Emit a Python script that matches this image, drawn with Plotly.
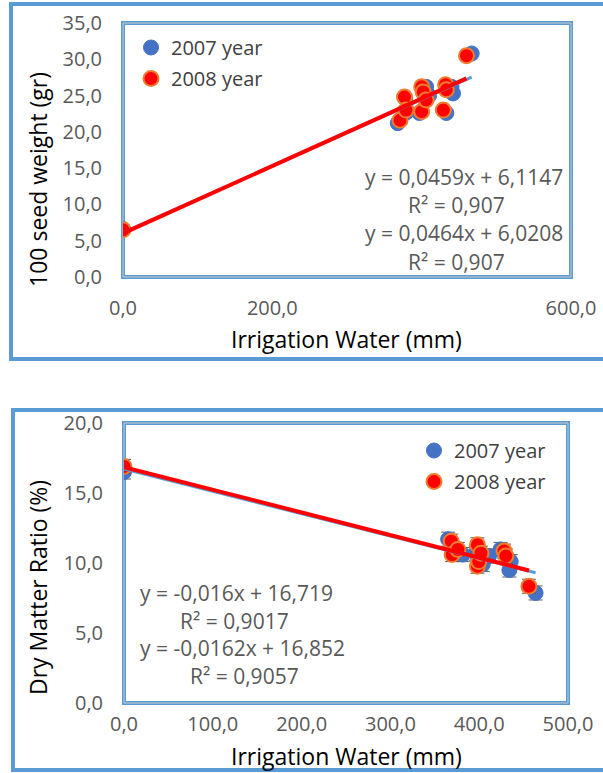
import plotly.graph_objects as go

# ---------------- data ----------------
# Top chart: 100 seed weight (gr) vs irrigation water (mm)
top_x_2007 = [0, 368, 378, 380, 397, 406, 410, 433, 440, 442, 467]
top_y_2007 = [6.6, 21.2, 24.6, 22.7, 22.6, 26.2, 25.0, 22.6, 26.2, 25.3, 30.8]
top_x_2008 = [0, 371, 377, 379, 400, 400, 402, 406, 429, 432, 433, 460]
top_y_2008 = [6.5, 21.6, 24.8, 23.0, 22.8, 26.2, 25.5, 24.4, 23.0, 26.5, 25.8, 30.5]
top_slope = [0.0459, 0.0464]
top_intercept = [6.1147, 6.0208]
top_eq_text = ["y = 0,0459x + 6,1147", "R² = 0,907", "y = 0,0464x + 6,0208", "R² = 0,907"]
top_x_ticks = [0, 200, 600]          # the 400,0 label is not shown in the reference
top_y_ticks = [0, 5, 10, 15, 20, 25, 30, 35]

# Bottom chart: dry matter ratio (%) vs irrigation water (mm)
bot_x_2007 = [0, 365, 372, 381.5, 396, 404, 411, 424, 434, 435.5, 463.5]
bot_y_2007 = [16.5, 11.7, 11.0, 10.6, 10.7, 9.9, 10.5, 10.97, 9.5, 10.1, 7.86]
bot_x_2008 = [0, 368.5, 369.5, 376, 398, 398, 399.5, 402, 428, 430, 456]
bot_y_2008 = [16.9, 11.56, 10.6, 10.97, 11.3, 9.77, 10.1, 10.7, 10.85, 10.5, 8.34]
bot_err_2007 = [0.5] * len(bot_x_2007)
bot_err_2008 = [0.5] * len(bot_x_2008)
bot_slope = [-0.016, -0.0162]
bot_intercept = [16.719, 16.852]
bot_eq_text = ["y = -0,016x + 16,719", "R² = 0,9017", "y = -0,0162x + 16,852", "R² = 0,9057"]
bot_x_ticks = [0, 100, 200, 300, 400, 500]
bot_y_ticks = [0, 5, 10, 15, 20]

series_names = ["2007 year", "2008 year"]

# ---------------- styling ----------------
W, H = 603, 773
FONT = "Open Sans"
BLUE = "#4472C4"
RED = "#FF0000"
ORANGE = "#ED7D31"
FRAME = "#5B9BD5"
GRAY = "#595959"
CLEAR = "rgba(0,0,0,0)"


def px(x):
    return x / W


def py(y):
    return 1 - y / H


fig = go.Figure()


def add_chart(xs, ys, errs, slopes, intercepts, xa, ya, legend):
    m07 = dict(size=15, color=BLUE, line=dict(color=BLUE, width=1))
    m08 = dict(size=15, color=RED, line=dict(color=ORANGE, width=2))
    for i, (x, y, m) in enumerate([(xs[0], ys[0], m07), (xs[1], ys[1], m08)]):
        kw = {}
        if errs is not None:
            kw["error_y"] = dict(type="data", array=errs[i], color=GRAY, thickness=1, width=7)
        fig.add_trace(go.Scatter(
            x=x, y=y, mode="markers", marker=m, name=series_names[i],
            xaxis=xa, yaxis=ya, legend=legend, legendgroup=legend + str(i),
            showlegend=True, **kw))
    tl_style = [dict(color=FRAME, width=3), dict(color=RED, width=4)]
    for i in range(2):
        x0, x1 = min(xs[i]), max(xs[i])
        fig.add_trace(go.Scatter(
            x=[x0, x1], y=[slopes[i] * x0 + intercepts[i], slopes[i] * x1 + intercepts[i]],
            mode="lines", line=tl_style[i], xaxis=xa, yaxis=ya, showlegend=False,
            legend=legend, legendgroup=legend + str(i), hoverinfo="skip"))


add_chart([top_x_2007, top_x_2008], [top_y_2007, top_y_2008], None,
          top_slope, top_intercept, "x", "y", "legend")
add_chart([bot_x_2007, bot_x_2008], [bot_y_2007, bot_y_2008], [bot_err_2007, bot_err_2008],
          bot_slope, bot_intercept, "x2", "y2", "legend2")

tickfont = dict(family=FONT, size=20, color=GRAY)
axis_common = dict(showgrid=False, zeroline=False, showline=False, ticks="outside",
                   tickcolor=CLEAR, tickfont=tickfont, tickformat=".1f", tickmode="array",
                   automargin=False)

legend_common = dict(xanchor="left", yanchor="top", bgcolor=CLEAR,
                     font=dict(family=FONT, size=20, color="#404040"),
                     tracegroupgap=2, itemwidth=30)

fig.update_layout(
    width=W, height=H,
    margin=dict(l=0, r=0, t=0, b=0, pad=0, autoexpand=False),
    paper_bgcolor="white", plot_bgcolor="white",
    separators=",.",
    font=dict(family=FONT),
    xaxis=dict(domain=[px(123), px(571)], range=[0, 600], tickvals=top_x_ticks, anchor="y",
               ticklen=13, **axis_common),
    yaxis=dict(domain=[py(277), py(23)], range=[0, 35], tickvals=top_y_ticks, anchor="x",
               ticklen=16, **axis_common),
    xaxis2=dict(domain=[px(124), px(568)], range=[0, 500], tickvals=bot_x_ticks, anchor="y2",
                ticklen=3, **axis_common),
    yaxis2=dict(domain=[py(703), py(423)], range=[0, 20], tickvals=bot_y_ticks, anchor="x2",
                ticklen=16, **axis_common),
    legend=dict(x=px(131), y=py(28), **legend_common),
    legend2=dict(x=px(414), y=py(431), **legend_common),
)

shapes = []
shapes.append(dict(type="rect", xref="paper", yref="paper", x0=px(11), x1=1.05,
                   y0=py(359), y1=py(4), line=dict(color=FRAME, width=4), layer="below"))
shapes.append(dict(type="rect", xref="paper", yref="paper", x0=px(13), x1=1.05,
                   y0=py(770), y1=py(410), line=dict(color=FRAME, width=4), layer="below"))
for xr, yr in [("x domain", "y domain"), ("x2 domain", "y2 domain")]:
    shapes.append(dict(type="rect", xref=xr, yref=yr, x0=0, x1=1, y0=0, y1=1,
                       line=dict(color=FRAME, width=4), layer="below"))
    shapes.append(dict(type="rect", xref=xr, yref=yr, x0=0, x1=1, y0=0, y1=1,
                       line=dict(color="#C9C9C9", width=1), layer="below"))
fig.update_layout(shapes=shapes)

annotations = []
title_font = dict(family=FONT, size=23, color="black")
annotations.append(dict(text="Irrigation Water (mm)", x=px(346), y=py(339), xref="paper", yref="paper",
                        showarrow=False, font=title_font, xanchor="center", yanchor="middle"))
annotations.append(dict(text="Irrigation Water (mm)", x=px(346), y=py(756), xref="paper", yref="paper",
                        showarrow=False, font=title_font, xanchor="center", yanchor="middle"))
annotations.append(dict(text="100 seed weight (gr)", x=px(38), y=py(180), xref="paper", yref="paper",
                        showarrow=False, font=title_font, textangle=-90, xanchor="center", yanchor="middle"))
annotations.append(dict(text="Dry Matter Ratio (%)", x=px(38), y=py(588), xref="paper", yref="paper",
                        showarrow=False, font=title_font, textangle=-90, xanchor="center", yanchor="middle"))

eq_font = dict(family=FONT, size=21, color=GRAY)
top_eq_pos = [(464, 177), (456, 205), (464, 233), (456, 262)]
bot_eq_pos = [(236, 593), (234, 621), (242, 648), (244, 676)]
for t, (ex, ey) in zip(top_eq_text, top_eq_pos):
    annotations.append(dict(text=t, x=px(ex), y=py(ey), xref="paper", yref="paper",
                            showarrow=False, font=eq_font, xanchor="center", yanchor="middle"))
for t, (ex, ey) in zip(bot_eq_text, bot_eq_pos):
    annotations.append(dict(text=t, x=px(ex), y=py(ey), xref="paper", yref="paper",
                            showarrow=False, font=eq_font, xanchor="center", yanchor="middle"))
fig.update_layout(annotations=annotations)

fig.write_html("out.html")
